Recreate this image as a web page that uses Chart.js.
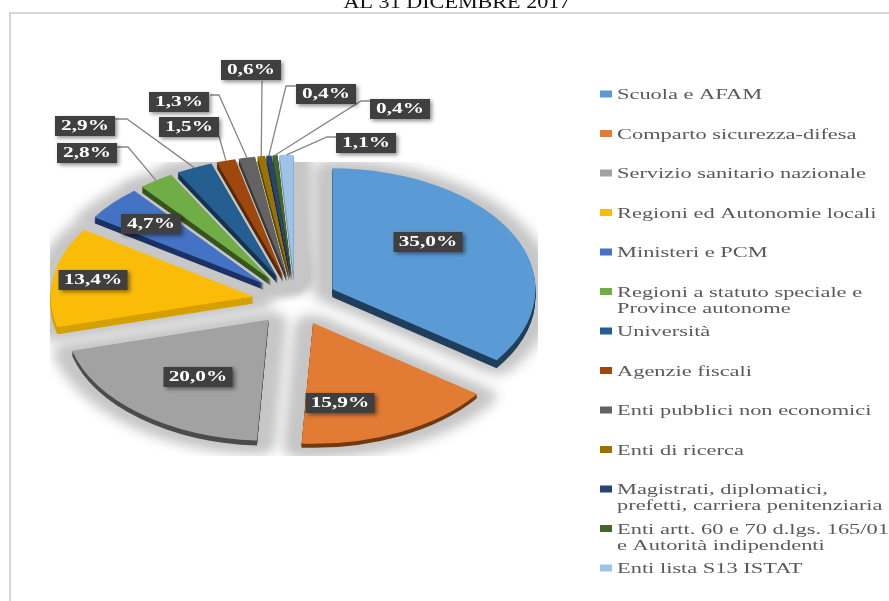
<!DOCTYPE html>
<html>
<head>
<meta charset="utf-8">
<script src="https://cdn.jsdelivr.net/npm/chart.js@4"></script>
<style>
  html, body { margin: 0; background: #fff; overflow: hidden; }
  canvas { display: block; filter: blur(0.4px); }
</style>
</head>
<body>
<canvas id="grafico" width="889" height="601"></canvas>
<script>
const titolo = "AL 31 DICEMBRE 2017";
const categorie = [
  "Scuola e AFAM",
  "Comparto sicurezza-difesa",
  "Servizio sanitario nazionale",
  "Regioni ed Autonomie locali",
  "Ministeri e PCM",
  "Regioni a statuto speciale e\nProvince autonome",
  "Università",
  "Agenzie fiscali",
  "Enti pubblici non economici",
  "Enti di ricerca",
  "Magistrati, diplomatici,\nprefetti, carriera penitenziaria",
  "Enti artt. 60 e 70 d.lgs. 165/01\ne Autorità indipendenti",
  "Enti lista S13 ISTAT"
];
const valori = [35.0, 15.9, 20.0, 13.4, 4.7, 2.8, 2.9, 1.5, 1.3, 0.6, 0.4, 0.4, 1.1];
const colori = ["#5b9bd5", "#e27b33", "#a2a2a2", "#fbbc09", "#4472c4", "#70ad47", "#255e91", "#9e480e", "#636363", "#997300", "#264478", "#43682b", "#9dc3e6"];
const coloriLato = ["#1f3f5c", "#713a10", "#4c4c4c", "#d6a000", "#1c3263", "#38541f", "#16324f", "#5a2a08", "#3a3a3a", "#5e4700", "#15284a", "#2a4219", "#6f93b5"];
const spessori = [8, 4, 5, 7, 6, 6, 6, 6, 6, 6, 6, 6, 6];

// posizione delle etichette: centro del riquadro, poi attacco e gomito della linea guida
const etichette = [
  { cx: 428, cy: 242 },
  { cx: 340, cy: 403 },
  { cx: 198, cy: 377 },
  { cx: 93, cy: 280 },
  { cx: 151, cy: 224 },
  { cx: 87, cy: 153, da: [117, 147], gomito: [128, 147] },
  { cx: 85, cy: 126, da: [115, 119], gomito: [127, 119] },
  { cx: 189, cy: 127, da: [219, 136] },
  { cx: 179, cy: 102, da: [210, 95], gomito: [219, 95] },
  { cx: 251, cy: 70, da: [262, 81] },
  { cx: 326, cy: 94, da: [296, 86], gomito: [286, 86] },
  { cx: 400, cy: 109, da: [370, 101], gomito: [361, 101] },
  { cx: 366, cy: 143, da: [336, 137], gomito: [327, 137] }
];

const schiacciamento = 0.595;
const esplosione = 42;
const stiramento = 1.42;
const stiramentoLegenda = 1.545;

function formatta(v) {
  return v.toFixed(1).replace(".", ",") + "%";
}

function testoLargo(ctx, testo, x, y, sx) {
  ctx.save();
  ctx.translate(x, y);
  ctx.scale(sx, 1);
  ctx.fillText(testo, 0, 0);
  ctx.restore();
}

// disegna gli archi schiacciati in ellisse e staccati dal centro
function disegnaArchi(chart, dy, stile) {
  const ctx = chart.ctx;
  const meta = chart.getDatasetMeta(0);
  const c = meta.data[0];
  ctx.save();
  ctx.translate(c.x, c.y + dy);
  ctx.scale(1, schiacciamento);
  ctx.translate(-c.x, -c.y);
  meta.data.forEach((arco, i) => {
    const extra = stile(i);
    if (!extra) return;
    const originali = arco.options;
    const medio = (arco.startAngle + arco.endAngle) / 2;
    arco.options = { ...originali, ...extra };
    ctx.save();
    ctx.translate(Math.cos(medio) * esplosione, Math.sin(medio) * esplosione);
    arco.draw(ctx);
    ctx.restore();
    arco.options = originali;
  });
  ctx.restore();
}

const torta3d = {
  id: "torta3d",
  beforeDatasetsDraw(chart) {
    const ctx = chart.ctx;
    // alone grigio dietro gli spicchi
    ctx.save();
    ctx.beginPath();
    ctx.rect(50, 162, 488, 294);
    ctx.clip();
    ctx.filter = "blur(6px)";
    disegnaArchi(chart, 3, () => ({
      backgroundColor: "#c6c6c6",
      borderColor: "#c6c6c6",
      borderWidth: 38,
      borderJoinStyle: "round"
    }));
    ctx.restore();
    for (let d = 8; d > 0; d--) {
      disegnaArchi(chart, d, i => spessori[i] >= d ? { backgroundColor: coloriLato[i] } : null);
    }
    disegnaArchi(chart, 0, i => ({ backgroundColor: colori[i] }));
    return false;
  }
};

const decorazioni = {
  id: "decorazioni",
  afterDraw(chart) {
    const ctx = chart.ctx;
    const arcs = chart.getDatasetMeta(0).data;

    // cornice e titolo tagliato
    ctx.save();
    ctx.strokeStyle = "#c9c9c9";
    ctx.lineWidth = 1.5;
    ctx.beginPath();
    ctx.moveTo(10, 601);
    ctx.lineTo(10, 13);
    ctx.lineTo(889, 13);
    ctx.stroke();
    ctx.fillStyle = "#111";
    ctx.font = "19px 'Liberation Serif'";
    ctx.textAlign = "center";
    ctx.textBaseline = "alphabetic";
    testoLargo(ctx, titolo, 457, 8, 1.165);
    ctx.restore();

    // linee guida
    ctx.save();
    ctx.strokeStyle = "#868686";
    ctx.lineWidth = 1.3;
    arcs.forEach((arco, i) => {
      const e = etichette[i];
      if (!e.da) return;
      const medio = (arco.startAngle + arco.endAngle) / 2;
      const r = arco.outerRadius + esplosione;
      ctx.beginPath();
      ctx.moveTo(e.da[0], e.da[1]);
      if (e.gomito) ctx.lineTo(e.gomito[0], e.gomito[1]);
      ctx.lineTo(arco.x + Math.cos(medio) * r, arco.y + Math.sin(medio) * r * schiacciamento);
      ctx.stroke();
    });
    ctx.restore();

    // riquadri dei valori
    ctx.save();
    ctx.textAlign = "center";
    ctx.textBaseline = "middle";
    ctx.font = "bold 15px 'Liberation Serif'";
    valori.forEach((v, i) => {
      const e = etichette[i];
      const l = i < 4 ? 69 : 60;
      ctx.save();
      ctx.shadowColor = "rgba(0,0,0,0.45)";
      ctx.shadowBlur = 4;
      ctx.shadowOffsetX = 2;
      ctx.shadowOffsetY = 2;
      ctx.fillStyle = "#3f3f3f";
      ctx.fillRect(e.cx - l / 2, e.cy - 10, l, 20);
      ctx.restore();
      ctx.fillStyle = "#fff";
      testoLargo(ctx, formatta(v), e.cx, e.cy, stiramento);
    });
    ctx.restore();

    // legenda
    ctx.save();
    ctx.font = "14.5px 'Liberation Serif'";
    ctx.textAlign = "left";
    ctx.textBaseline = "middle";
    categorie.forEach((nome, i) => {
      const y = 94 + i * 39.5;
      ctx.fillStyle = colori[i];
      ctx.fillRect(600, y - 3.5, 12, 7);
      ctx.fillStyle = "#595959";
      nome.split("\n").forEach((riga, k) => {
        testoLargo(ctx, riga, 617, y + 1.5 + k * 16, stiramentoLegenda);
      });
    });
    ctx.restore();
  }
};

new Chart(document.getElementById("grafico"), {
  type: "pie",
  data: {
    labels: categorie,
    datasets: [{
      data: valori,
      backgroundColor: colori,
      borderWidth: 0,
      clip: false
    }]
  },
  options: {
    responsive: false,
    animation: false,
    radius: 203,
    layout: { padding: { left: 0, right: 299, top: 0, bottom: 0 } },
    events: [],
    plugins: {
      legend: { display: false },
      tooltip: { enabled: false }
    }
  },
  plugins: [torta3d, decorazioni]
});
</script>
</body>
</html>
